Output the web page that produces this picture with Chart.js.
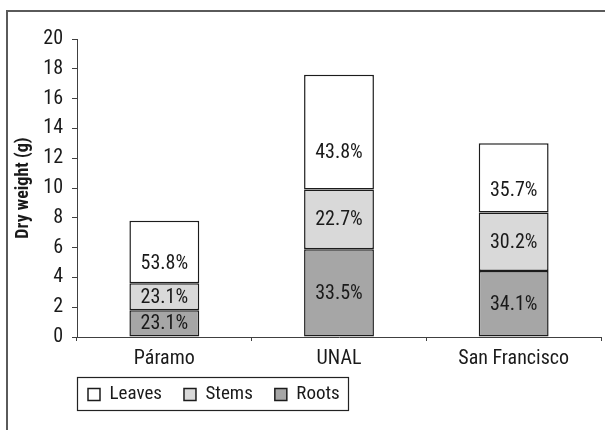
<!DOCTYPE html>
<html>
<head>
<meta charset="utf-8">
<script src="https://cdn.jsdelivr.net/npm/chart.js@4"></script>
<style>
  html, body { margin: 0; padding: 0; background: #ffffff; }
  canvas { display: block; }
</style>
</head>
<body>
<canvas id="chart" width="605" height="430"></canvas>
<script>
// Dry weight per site and the share of each plant part (percent of the total)
const categories = ['Páramo', 'UNAL', 'San Francisco'];
const totalWeight = [7.8, 17.6, 13.0];
const rootsPct = [23.1, 33.5, 34.1];
const stemsPct = [23.1, 22.7, 30.2];
const leavesPct = [53.8, 43.8, 35.7];
const yTickValues = [0, 2, 4, 6, 8, 10, 12, 14, 16, 18, 20];

const FONT = "'Roboto Condensed', 'Liberation Sans Narrow', Roboto, sans-serif";
const INK = '#1a1a1a';
const LINE = '#404040';

// grams of each part = total weight x share
const part = pct => pct.map((p, i) => totalWeight[i] * p / 100);

// Writes the percentage inside each stacked segment
const segmentLabels = {
  id: 'segmentLabels',
  afterDatasetsDraw(chart) {
    const ctx = chart.ctx;
    ctx.save();
    ctx.font = '20px ' + FONT;
    ctx.fillStyle = INK;
    ctx.textAlign = 'center';
    ctx.textBaseline = 'middle';
    chart.data.datasets.forEach((ds, di) => {
      const meta = chart.getDatasetMeta(di);
      meta.data.forEach((bar, i) => {
        const frac = ds.labelAnchor;
        const y = bar.base - (bar.base - bar.y) * frac;
        ctx.fillText(ds.pct[i].toFixed(1) + '%', bar.x, y + 1);
      });
    });
    ctx.restore();
  }
};

// Outer frame and the box around the legend
const frameAndLegendBox = {
  id: 'frameAndLegendBox',
  beforeDraw(chart) {
    const ctx = chart.ctx;
    ctx.save();
    ctx.fillStyle = '#ffffff';
    ctx.fillRect(0, 0, chart.width, chart.height);
    ctx.strokeStyle = '#5a5a5a';
    ctx.lineWidth = 2;
    ctx.beginPath();
    ctx.moveTo(7, chart.height);
    ctx.lineTo(7, 11);
    ctx.lineTo(chart.width, 11);
    ctx.stroke();
    ctx.restore();
  },
  afterLayout(chart) {
    const lg = chart.legend;
    const pad = lg.options.labels.padding;
    const w = lg.right - lg.left;
    lg.left = 88 - pad;
    lg.right = lg.left + w;
    const h = lg.bottom - lg.top;
    lg.top = 385 - pad;
    lg.bottom = lg.top + h;
  },
  afterDraw(chart) {
    const ctx = chart.ctx;
    ctx.save();
    ctx.strokeStyle = '#222222';
    ctx.lineWidth = 1.2;
    ctx.strokeRect(77.5, 377.5, 271, 33);
    ctx.restore();
  }
};

new Chart(document.getElementById('chart'), {
  type: 'bar',
  data: {
    labels: categories,
    datasets: [
      { label: 'Roots', data: part(rootsPct), pct: rootsPct, labelAnchor: 0.5,
        backgroundColor: '#a6a6a6', borderColor: '#1c1c1c', borderWidth: 1.5, borderSkipped: false },
      { label: 'Stems', data: part(stemsPct), pct: stemsPct, labelAnchor: 0.5,
        backgroundColor: '#d9d9d9', borderColor: '#1c1c1c', borderWidth: 1.5, borderSkipped: false },
      { label: 'Leaves', data: part(leavesPct), pct: leavesPct, labelAnchor: 0.33,
        backgroundColor: '#ffffff', borderColor: '#1c1c1c', borderWidth: 1.5, borderSkipped: false }
    ]
  },
  options: {
    responsive: false,
    animation: false,
    devicePixelRatio: 1,
    layout: { padding: { left: 10, right: 4, top: 39, bottom: 0 } },
    datasets: { bar: { categoryPercentage: 1.0, barPercentage: 0.4 } },
    plugins: {
      tooltip: { enabled: false },
      legend: {
        position: 'bottom',
        align: 'start',
        reverse: true,
        labels: {
          boxWidth: 12,
          boxHeight: 12,
          padding: 22,
          color: INK,
          font: { family: FONT, size: 19 }
        }
      }
    },
    scales: {
      x: {
        stacked: true,
        grid: { offset: true, drawOnChartArea: false, drawTicks: true, tickLength: 4, color: LINE },
        border: { display: true, color: LINE, width: 1 },
        ticks: { color: INK, font: { family: FONT, size: 20 }, padding: 6 },
        afterFit(scale) { scale.height = 93 - scale.chart.legend.height; }
      },
      y: {
        stacked: true,
        min: 0,
        max: 20,
        afterBuildTicks(scale) { scale.ticks = yTickValues.map(v => ({ value: v })); },
        grid: { drawOnChartArea: false, drawTicks: true, tickLength: 5, color: LINE },
        border: { display: true, color: LINE, width: 1 },
        ticks: { color: INK, font: { family: FONT, size: 20 }, padding: 9 },
        title: {
          display: true,
          text: 'Dry weight (g)',
          color: INK,
          font: { family: FONT, size: 18, weight: 'bold' },
          padding: { top: 3, bottom: 0 }
        },
        afterFit(scale) { scale.width = 67; }
      }
    }
  },
  plugins: [segmentLabels, frameAndLegendBox]
});
</script>
</body>
</html>
